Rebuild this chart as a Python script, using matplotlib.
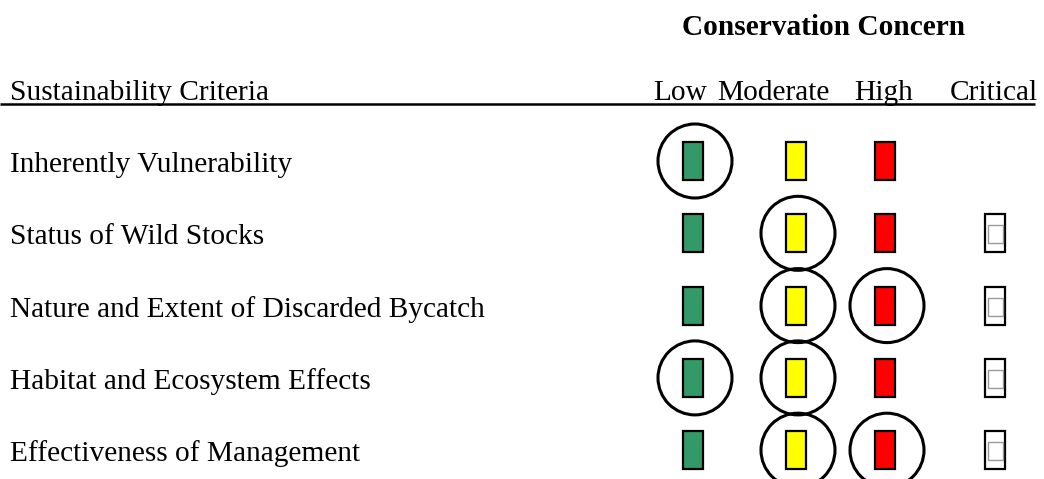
import matplotlib.pyplot as plt
from matplotlib.patches import Rectangle, Circle

# chart content
title = "Conservation Concern"
header = "Sustainability Criteria"
levels = ["Low", "Moderate", "High", "Critical"]
level_colors = ["#339966", "#FFFF00", "#FF0000", "white"]
criteria = [
    "Inherently Vulnerability",
    "Status of Wild Stocks",
    "Nature and Extent of Discarded Bycatch",
    "Habitat and Ecosystem Effects",
    "Effectiveness of Management",
]
# which level boxes are shown per criterion
shown = [
    ["Low", "Moderate", "High"],
    ["Low", "Moderate", "High", "Critical"],
    ["Low", "Moderate", "High", "Critical"],
    ["Low", "Moderate", "High", "Critical"],
    ["Low", "Moderate", "High", "Critical"],
]
# circled rating(s) per criterion
circled = [
    ["Low"],
    ["Moderate"],
    ["Moderate", "High"],
    ["Low", "Moderate"],
    ["Moderate", "High"],
]

W, H = 1044, 479
fig = plt.figure(figsize=(W / 100, H / 100), dpi=100)
ax = fig.add_axes([0, 0, 1, 1])
ax.set_xlim(0, W)
ax.set_ylim(H, 0)
ax.axis("off")

plt.rcParams["font.family"] = ["Liberation Serif", "DejaVu Serif"]
fs = 21.2

# layout (pixels)
box_x = [693, 796, 885, 995]
label_x = [680, 773, 884, 994]
row_y0, row_dy = 161, 72.3
box_w, box_h = 20, 38
rad = 37

ax.text(824, 35, title, fontsize=fs, fontweight="bold", ha="center", va="baseline")
ax.text(10, 100, header, fontsize=fs, ha="left", va="baseline")
for lx, lev in zip(label_x, levels):
    ax.text(lx, 100, lev, fontsize=fs, ha="center", va="baseline")
ax.plot([0, 1035], [104, 104], color="black", lw=1.8, solid_capstyle="butt")

for i, name in enumerate(criteria):
    y = row_y0 + i * row_dy
    ax.text(10, y + 11, name, fontsize=fs, ha="left", va="baseline")
    for lev in shown[i]:
        j = levels.index(lev)
        x = box_x[j]
        ax.add_patch(Rectangle((x - box_w / 2, y - box_h / 2), box_w, box_h,
                               facecolor=level_colors[j], edgecolor="black", lw=1.6))
        if lev == "Critical":
            # small grey inner square
            ax.add_patch(Rectangle((x - 7, y - 8), 15, 18, facecolor="white",
                                   edgecolor="#999999", lw=1.0))
    for lev in circled[i]:
        j = levels.index(lev)
        ax.add_patch(Circle((box_x[j] + 2, y), rad, fill=False, edgecolor="black", lw=2.2))

fig.savefig("out.png", dpi=100)
